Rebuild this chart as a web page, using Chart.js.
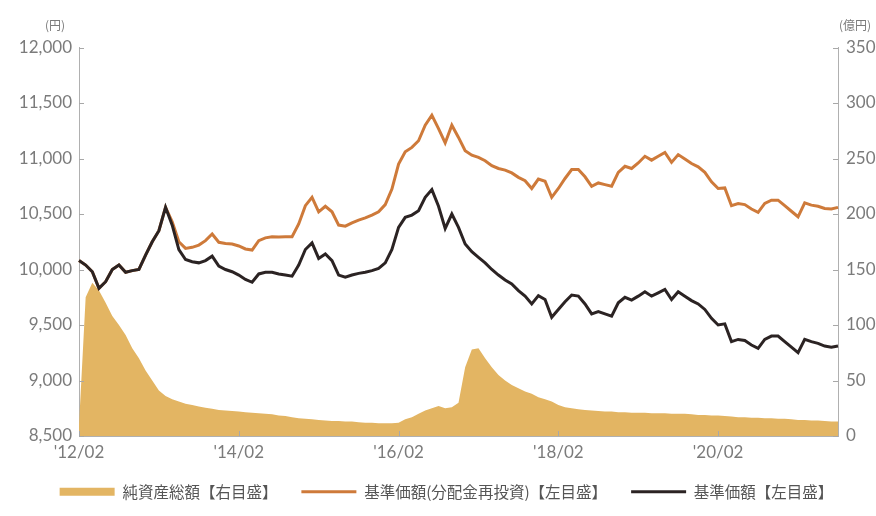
<!DOCTYPE html>
<html>
<head>
<meta charset="utf-8">
<script src="https://cdn.jsdelivr.net/npm/chart.js@4.4.0/dist/chart.umd.min.js"></script>
<style>
  html, body { margin: 0; padding: 0; background: #fff; }
  #wrap { width: 876px; height: 516px; position: relative; }
</style>
</head>
<body>
<div id="wrap"><canvas id="chart" width="876" height="516"></canvas></div>
<script>
// monthly points, 2012/02 .. 2021/08
const startYear = 2012, startMonth = 2, monthCount = 115;

const xTicks = ['2012/02', '2014/02', '2016/02', '2018/02', '2020/02'];
const xTickText = ["'12/02", "'14/02", "'16/02", "'18/02", "'20/02"];

const seriesNames = ['純資産総額【右目盛】', '基準価額(分配金再投資)【左目盛】', '基準価額【左目盛】'];

// 純資産総額 (億円, right axis)
const netAssets = [
  10, 125, 138, 131, 120, 108, 100, 91, 79, 70,
  59, 50, 41, 36, 33, 31, 29, 28, 26.5, 25.5,
  24.5, 23.5, 23, 22.5, 22, 21.5, 21, 20.5, 20, 19.5,
  18.5, 18, 17, 16, 15.5, 15, 14.5, 14, 13.5, 13.5,
  13, 13, 12.5, 12, 12, 11.5, 11.5, 11.5, 12, 15,
  17, 20, 23, 25, 27, 25, 26, 30, 62, 78,
  79, 70, 62, 55, 50, 46, 43, 40, 38, 35,
  33, 31, 28, 26, 25, 24, 23.5, 23, 22.5, 22,
  22, 21.5, 21.5, 21, 21, 21, 20.5, 20.5, 20.5, 20,
  20, 20, 19.5, 19, 19, 18.5, 18.5, 18, 17.5, 17,
  17, 16.5, 16.5, 16, 16, 15.5, 15.5, 15, 14.5, 14.5,
  14, 14, 13.5, 13, 13
];

// 基準価額(分配金再投資) (円, left axis)
const navReinvested = [
  10080, 10040, 9980, 9830, 9890, 10000, 10040, 9975, 9990, 10000,
  10130, 10250, 10350, 10560, 10430, 10250, 10190, 10200, 10220, 10260,
  10320, 10245, 10235, 10230, 10212, 10185, 10175, 10260, 10285, 10295,
  10293, 10295, 10295, 10410, 10575, 10650, 10520, 10570, 10520, 10400,
  10390, 10420, 10445, 10465, 10490, 10520, 10585, 10725, 10950, 11060,
  11100, 11160, 11300, 11390, 11270, 11140, 11300, 11190, 11070, 11030,
  11010, 10980, 10935, 10910, 10895, 10870, 10830, 10800, 10730, 10815,
  10795, 10650, 10730, 10820, 10900, 10900, 10835, 10750, 10780, 10765,
  10750, 10875, 10930, 10910, 10960, 11020, 10985, 11020, 11055, 10965,
  11035, 10995, 10955, 10925, 10875, 10790, 10730, 10735, 10575, 10595,
  10585, 10545, 10515, 10595, 10625, 10625, 10575, 10525, 10475, 10600,
  10580, 10570, 10550, 10545, 10560
];

// 基準価額 (円, left axis)
const nav = [
  10080, 10040, 9980, 9830, 9890, 10000, 10040, 9975, 9990, 10000,
  10130, 10250, 10350, 10560, 10400, 10180, 10090, 10070, 10060, 10080,
  10120, 10030, 10000, 9980, 9950, 9910, 9885, 9960, 9975, 9975,
  9960, 9950, 9940, 10040, 10180, 10240, 10100, 10140, 10080, 9950,
  9930, 9950, 9965, 9975, 9990, 10010, 10060, 10180, 10380, 10470,
  10490, 10530, 10650, 10720, 10570, 10370, 10500, 10380, 10230, 10160,
  10110, 10060, 10000, 9950, 9905, 9870, 9810, 9760, 9690, 9765,
  9730, 9570, 9640, 9710, 9770, 9760, 9690, 9600, 9620, 9600,
  9580, 9700, 9750, 9725, 9760, 9800, 9760, 9790, 9820, 9730,
  9800, 9760, 9720, 9690, 9640, 9560, 9500, 9510, 9350, 9370,
  9360, 9320, 9290, 9370, 9400, 9400, 9350, 9300, 9250, 9370,
  9350, 9335, 9310, 9300, 9310
];

const labels = [];
for (let i = 0; i < monthCount; i++) {
  const m = startMonth - 1 + i;
  const y = startYear + Math.floor(m / 12);
  labels.push(y + '/' + String(m % 12 + 1).padStart(2, '0'));
}

const AREA = 'rgb(227,181,99)';
const ORANGE = 'rgb(206,122,58)';
const DARK = 'rgb(43,35,35)';
const legendColors = [AREA, ORANGE, DARK];
const legendWidths = [8, 3, 3];

const tickFont = { family: 'Lato, "Noto Sans", sans-serif', size: 17 };
const tickColor = '#7b7b7b';

const axisDecor = {
  id: 'axisDecor',
  afterDatasetsDraw(chart) {
    const { ctx, chartArea: a, scales } = chart;
    ctx.save();
    ctx.strokeStyle = '#a8a8a8';
    ctx.lineWidth = 1;
    ctx.beginPath();
    scales.y.ticks.forEach(t => {
      const py = Math.round(scales.y.getPixelForValue(t.value)) + 0.5;
      ctx.moveTo(a.left, py); ctx.lineTo(a.left + 5, py);
    });
    scales.y1.ticks.forEach(t => {
      const py = Math.round(scales.y1.getPixelForValue(t.value)) + 0.5;
      ctx.moveTo(a.right, py); ctx.lineTo(a.right - 5, py);
    });
    scales.x.ticks.forEach(t => {
      const px = Math.round(scales.x.getPixelForValue(t.value)) + 0.5;
      ctx.moveTo(px, a.bottom); ctx.lineTo(px, a.bottom - 5);
    });
    ctx.stroke();

    ctx.fillStyle = '#7b7b7b';
    ctx.font = '12px "Noto Sans CJK JP"';
    ctx.textAlign = 'center';
    ctx.textBaseline = 'middle';
    ctx.fillText('(円)', 55, 25);
    ctx.fillText('(億円)', 855, 25);
    ctx.restore();
  }
};

new Chart(document.getElementById('chart'), {
  type: 'line',
  data: {
    labels: labels,
    datasets: [
      {
        label: seriesNames[0],
        data: netAssets,
        yAxisID: 'y1',
        fill: 'origin',
        backgroundColor: AREA,
        borderWidth: 0,
        pointRadius: 0,
        tension: 0,
        order: 3
      },
      {
        label: seriesNames[1],
        data: navReinvested,
        yAxisID: 'y',
        borderColor: ORANGE,
        borderWidth: 3,
        pointRadius: 0,
        tension: 0,
        fill: false,
        order: 2
      },
      {
        label: seriesNames[2],
        data: nav,
        yAxisID: 'y',
        borderColor: DARK,
        borderWidth: 3,
        pointRadius: 0,
        tension: 0,
        fill: false,
        order: 1
      }
    ]
  },
  options: {
    responsive: false,
    animation: false,
    layout: { padding: { top: 47.5, bottom: 6.5, left: 17, right: 0 } },
    plugins: {
      tooltip: { enabled: false },
      legend: {
        position: 'bottom',
        labels: {
          usePointStyle: true,
          pointStyleWidth: 55,
          padding: 24,
          color: '#555',
          font: { family: '"Noto Sans CJK JP"', size: 15.5 },
          generateLabels: chart => chart.data.datasets.map((ds, i) => ({
            text: ds.label,
            fillStyle: legendColors[i],
            strokeStyle: legendColors[i],
            lineWidth: legendWidths[i],
            pointStyle: 'line',
            hidden: false,
            datasetIndex: i,
            fontColor: '#555'
          }))
        }
      }
    },
    scales: {
      x: {
        type: 'category',
        offset: false,
        afterBuildTicks: scale => {
          scale.ticks = scale.ticks.filter(t => xTicks.includes(labels[t.value]));
        },
        afterFit: scale => { scale.height = 24; },
        grid: { drawOnChartArea: false, drawTicks: false },
        border: { display: true, color: '#b0b0b0' },
        ticks: {
          autoSkip: false,
          maxRotation: 0,
          padding: 6,
          color: tickColor,
          font: tickFont,
          callback: function (value) {
            const i = xTicks.indexOf(labels[value]);
            return i >= 0 ? xTickText[i] : null;
          }
        }
      },
      y: {
        position: 'left',
        min: 8500,
        max: 12000,
        afterFit: scale => { scale.width = 62; },
        grid: { drawOnChartArea: false, drawTicks: false },
        border: { display: true, color: '#b0b0b0' },
        ticks: {
          stepSize: 500,
          padding: 7,
          color: tickColor,
          font: tickFont,
          callback: v => v.toLocaleString('en-US')
        }
      },
      y1: {
        position: 'right',
        min: 0,
        max: 350,
        afterFit: scale => { scale.width = 38; },
        grid: { drawOnChartArea: false, drawTicks: false },
        border: { display: true, color: '#b0b0b0' },
        ticks: {
          stepSize: 50,
          padding: 8,
          color: tickColor,
          font: tickFont
        }
      }
    }
  },
  plugins: [axisDecor]
});
</script>
</body>
</html>
